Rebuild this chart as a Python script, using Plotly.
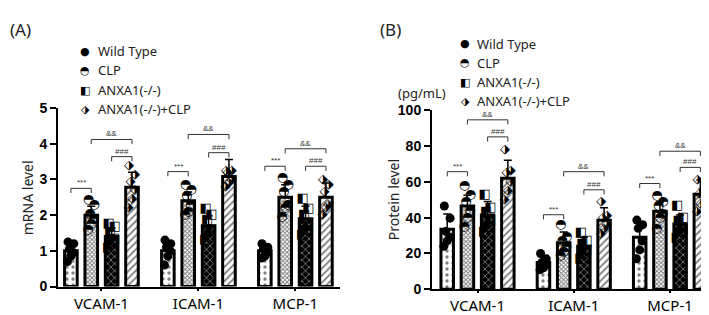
import plotly.graph_objects as go

W, H = 709, 315

categories = ["VCAM-1", "ICAM-1", "MCP-1"]
series = ["Wild Type", "CLP", "ANXA1(-/-)", "ANXA1(-/-)+CLP"]

# Panel A: mRNA level (means, upper SD)
mrna_mean = {
    "Wild Type": [1.0, 1.0, 1.0],
    "CLP": [2.0, 2.4, 2.5],
    "ANXA1(-/-)": [1.4, 1.7, 1.9],
    "ANXA1(-/-)+CLP": [2.78, 3.08, 2.5],
}
mrna_sd = {
    "Wild Type": [0.2, 0.2, 0.12],
    "CLP": [0.25, 0.25, 0.35],
    "ANXA1(-/-)": [0.25, 0.28, 0.35],
    "ANXA1(-/-)+CLP": [0.42, 0.48, 0.4],
}
mrna_pts = {
    "Wild Type": [[1.25, 1.2, 1.05, 0.95, 0.85, 0.7], [1.3, 1.2, 1.1, 1.0, 0.85, 0.6], [1.2, 1.1, 1.05, 0.95, 0.85, 0.8]],
    "CLP": [[2.42, 2.3, 2.05, 1.9, 1.75, 1.6], [2.85, 2.7, 2.55, 2.3, 2.1, 2.0], [3.05, 2.85, 2.65, 2.3, 2.2, 1.95]],
    "ANXA1(-/-)": [[1.75, 1.68, 1.52, 1.35, 1.2, 1.1], [2.18, 2.0, 1.86, 1.6, 1.4, 1.3], [2.47, 2.18, 2.0, 1.7, 1.6, 1.45]],
    "ANXA1(-/-)+CLP": [[3.37, 3.14, 2.93, 2.71, 2.45, 2.2], [3.25, 3.24, 3.2, 3.0, 2.9, 2.8], [3.0, 2.85, 2.66, 2.3, 2.2, 2.0]],
}

# Panel B: protein level (pg/mL)
prot_mean = {
    "Wild Type": [33.5, 15.0, 29.0],
    "CLP": [46.5, 26.0, 43.5],
    "ANXA1(-/-)": [41.5, 24.0, 36.5],
    "ANXA1(-/-)+CLP": [62.0, 38.5, 53.0],
}
prot_sd = {
    "Wild Type": [8.5, 3.0, 5.5],
    "CLP": [6.0, 6.0, 5.0],
    "ANXA1(-/-)": [7.5, 5.0, 5.0],
    "ANXA1(-/-)+CLP": [10.0, 7.0, 8.0],
}
prot_pts = {
    "Wild Type": [[46.5, 39.7, 32.3, 29, 27, 24], [20, 17, 15, 14, 12, 11], [38.6, 36, 34, 27, 22, 17]],
    "CLP": [[58, 53, 49, 44, 40, 35], [36, 29.6, 27, 24, 21, 19], [52, 49, 46.5, 42, 40, 34]],
    "ANXA1(-/-)": [[53, 45.5, 43, 38, 35, 32], [31.7, 27, 25.4, 22, 20, 17], [46.5, 40, 38, 33, 32, 29]],
    "ANXA1(-/-)+CLP": [[78, 66, 65, 60, 55, 50], [49, 41, 40, 36, 34, 31], [61, 56, 53.4, 52, 48, 43]],
}

# significance brackets: (group, bar_from, bar_to, level, label)
brackets_a = [
    (0, 0, 1, 2.75, "***"), (0, 2, 3, 3.64, "###"), (0, 1, 3, 4.12, "&&"),
    (1, 0, 1, 3.22, "***"), (1, 2, 3, 3.75, "###"), (1, 1, 3, 4.26, "&&"),
    (2, 0, 1, 3.37, "***"), (2, 2, 3, 3.37, "###"), (2, 1, 3, 3.86, "&&"),
]
brackets_b = [
    (0, 0, 1, 65.6, "***"), (0, 2, 3, 85.0, "###"), (0, 1, 3, 94.5, "&&"),
    (1, 0, 1, 41.6, "***"), (1, 2, 3, 55.5, "###"), (1, 1, 3, 65.6, "&&"),
    (2, 0, 1, 59.0, "***"), (2, 2, 3, 68.0, "###"), (2, 1, 3, 77.0, "&&"),
]

offsets = [-0.315, -0.105, 0.105, 0.315]
jitter = [-0.03, 0.03, -0.015, 0.025, 0.0, -0.035]
bar_w = 0.13

patterns = {
    "Wild Type": dict(shape=".", fgcolor="black", bgcolor="white", size=6, solidity=0.25),
    "CLP": dict(shape="x", fgcolor="black", bgcolor="white", size=3, solidity=0.55),
    "ANXA1(-/-)": dict(shape="x", fgcolor="white", bgcolor="black", size=5, solidity=0.3),
    "ANXA1(-/-)+CLP": dict(shape="/", fgcolor="black", bgcolor="white", size=5, solidity=0.35),
}
glyphs = {"Wild Type": "●", "CLP": "◓", "ANXA1(-/-)": "◧", "ANXA1(-/-)+CLP": "⬗"}

fig = go.Figure()

def add_panel(mean, sd, pts, xa, ya):
    for s_i, s in enumerate(series):
        xs = [g + offsets[s_i] for g in range(len(categories))]
        fig.add_trace(go.Bar(
            x=xs, y=mean[s], width=bar_w, xaxis=xa, yaxis=ya, showlegend=False,
            marker=dict(color="white", pattern=patterns[s], line=dict(color="black", width=3)),
            error_y=dict(type="data", symmetric=False, array=sd[s], arrayminus=[0] * 3,
                         color="black", thickness=1.5, width=4),
        ))
    for s_i, s in enumerate(series):
        px, py = [], []
        for g in range(len(categories)):
            for k, v in enumerate(pts[s][g]):
                px.append(g + offsets[s_i] + jitter[k])
                py.append(v)
        if s == "Wild Type":
            fig.add_trace(go.Scatter(x=px, y=py, mode="markers", xaxis=xa, yaxis=ya, showlegend=False,
                                     marker=dict(symbol="circle", size=9, color="black")))
        else:
            fig.add_trace(go.Scatter(x=px, y=py, mode="text", text=[glyphs[s]] * len(px),
                                     textposition="middle center", xaxis=xa, yaxis=ya, showlegend=False,
                                     textfont=dict(family="DejaVu Sans", size=13, color="black")))

add_panel(mrna_mean, mrna_sd, mrna_pts, "x", "y")
add_panel(prot_mean, prot_sd, prot_pts, "x2", "y2")

def add_brackets(br, xref, yref, drop):
    for g, a, b, lvl, lab in br:
        x0 = g + offsets[a]
        x1 = g + offsets[b]
        fig.add_shape(type="path", xref=xref, yref=yref,
                      path=f"M {x0} {lvl - drop} L {x0} {lvl} L {x1} {lvl} L {x1} {lvl - drop}",
                      line=dict(color="#333", width=1))
        fig.add_annotation(x=(x0 + x1) / 2, y=lvl, xref=xref, yref=yref, text=lab, showarrow=False,
                           yanchor="bottom", yshift=-1, font=dict(family="Liberation Sans", size=8, color="#333"))

add_brackets(brackets_a, "x", "y", 0.13)
add_brackets(brackets_b, "x2", "y2", 2.6)

tickfont_y = dict(family="Liberation Sans", size=14, color="black", weight="bold")
tickfont_x = dict(family="Noto Sans", size=15, color="black")

fig.update_layout(
    width=W, height=H, margin=dict(l=0, r=0, t=0, b=0),
    paper_bgcolor="white", plot_bgcolor="white", barmode="overlay",
    xaxis=dict(domain=[50 / W, 332 / W], range=[-0.448, 2.46], tickvals=[0, 1, 2], ticktext=categories,
               showline=True, linecolor="black", linewidth=2, ticks="outside", ticklen=2, tickwidth=1.5,
               tickcolor="black", tickfont=tickfont_x, showgrid=False, zeroline=False, anchor="y"),
    yaxis=dict(domain=[1 - 285 / H, 1 - 97 / H], range=[0, 5], tickvals=[0, 1, 2, 3, 4, 5],
               showline=True, linecolor="black", linewidth=2, ticks="outside", ticklen=6, tickwidth=2,
               tickcolor="black", tickfont=tickfont_y, showgrid=False, zeroline=False, anchor="x"),
    xaxis2=dict(domain=[424 / W, 1.0], range=[-0.473, 2.488], tickvals=[0, 1, 2], ticktext=categories,
                showline=True, linecolor="black", linewidth=2, ticks="outside", ticklen=2, tickwidth=1.5,
                tickcolor="black", tickfont=tickfont_x, showgrid=False, zeroline=False, anchor="y2"),
    yaxis2=dict(domain=[1 - 288 / H, 1 - 99 / H], range=[0, 100], tickvals=[0, 20, 40, 60, 80, 100],
                showline=True, linecolor="black", linewidth=2, ticks="outside", ticklen=6, tickwidth=2,
                tickcolor="black", tickfont=tickfont_y, showgrid=False, zeroline=False, anchor="x2"),
)

def pa(x, y, text, size=13, xanchor="left", angle=0, family="Noto Sans", color="#222"):
    fig.add_annotation(x=x / W, y=1 - y / H, xref="paper", yref="paper", text=text, showarrow=False,
                       xanchor=xanchor, yanchor="middle", textangle=angle,
                       font=dict(family=family, size=size, color=color))

pa(0, 14, "(A)", size=17)
pa(370, 14, "(B)", size=17)
pa(19, 192, "mRNA level", size=14, xanchor="center", angle=-90)
pa(385, 194, "Protein level", size=14, xanchor="center", angle=-90)
pa(414, 81, "(pg/mL)", size=13, xanchor="center")

leg_a = [37, 57, 78, 98]
leg_b = [29, 49, 70, 90]
for i, s in enumerate(series):
    pa(77, leg_a[i], glyphs[s], size=11, xanchor="center", family="DejaVu Sans", color="black")
    pa(88, leg_a[i], s, size=13)
    pa(457, leg_b[i], glyphs[s], size=11, xanchor="center", family="DejaVu Sans", color="black")
    pa(467, leg_b[i], s, size=13)

fig.write_html("out.html")
